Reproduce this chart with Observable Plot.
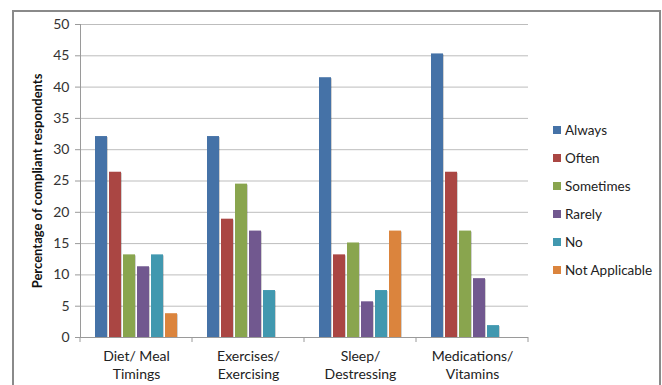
<!DOCTYPE html>
<html>
<head>
<meta charset="utf-8">
<script src="https://cdn.jsdelivr.net/npm/d3@7"></script>
<script src="https://cdn.jsdelivr.net/npm/@observablehq/plot@0.6"></script>
<style>
  body { margin: 0; background: #fff; }
  #wrap { position: relative; width: 662px; height: 385px; overflow: hidden; font-family: Lato, "Open Sans", sans-serif; }
  #chart { position: absolute; left: 0; top: 0; }
  #border { position: absolute; left: 12px; top: 10px; width: 649px; height: 420px; border: 2px solid #8a8a8a; box-sizing: border-box; pointer-events: none; }
  #legend { position: absolute; left: 553px; top: 116px; font-size: 13.5px; color: #222; }
  #legend .item { height: 28px; line-height: 28px; white-space: nowrap; display: flex; align-items: center; }
  #legend .sw { width: 8px; height: 8px; margin-right: 4px; display: inline-block; }
  .bars rect { filter: drop-shadow(1px 1px 0.6px rgba(0,0,0,0.18)); }
</style>
</head>
<body>
<div id="wrap">
  <div id="chart"></div>
  <div id="legend"></div>
  <div id="border"></div>
</div>
<script>
const categories = ["Diet/ Meal Timings", "Exercises/ Exercising", "Sleep/ Destressing", "Medications/ Vitamins"];
const categoryLabels = ["Diet/ Meal\nTimings", "Exercises/\nExercising", "Sleep/\nDestressing", "Medications/\nVitamins"];
const series = ["Always", "Often", "Sometimes", "Rarely", "No", "Not Applicable"];
const seriesColors = ["#4572A7", "#AA4643", "#89A54E", "#71588F", "#4198AF", "#DB843D"];

const always        = [32.1, 32.1, 41.5, 45.3];
const often         = [26.4, 18.9, 13.2, 26.4];
const sometimes     = [13.2, 24.5, 15.1, 17.0];
const rarely        = [11.3, 17.0, 5.7, 9.4];
const no            = [13.2, 7.5, 7.5, 1.9];
const notApplicable = [3.8, 0, 17.0, 0];

const yTicks = [0, 5, 10, 15, 20, 25, 30, 35, 40, 45, 50];
const yLabel = "Percentage of compliant respondents";

const seriesValues = [always, often, sometimes, rarely, no, notApplicable];
const data = [];
categories.forEach((c, ci) => {
  series.forEach((s, si) => {
    data.push({category: c, series: s, value: seriesValues[si][ci]});
  });
});

const chart = Plot.plot({
  width: 662,
  height: 385,
  marginLeft: 80,
  marginRight: 134,
  marginTop: 24,
  marginBottom: 48,
  style: {fontFamily: "Lato, 'Open Sans', sans-serif", fontSize: "14px", color: "#333", background: "transparent"},
  fx: {domain: categories, padding: 0, label: null},
  x: {domain: series, paddingInner: 0.13, paddingOuter: 0.8, axis: null},
  y: {domain: [0, 50]},
  color: {domain: series, range: seriesColors},
  marks: [
    Plot.gridY(yTicks, {stroke: "#bdbdbd", strokeOpacity: 1, strokeWidth: 1}),
    Plot.axisY(yTicks, {tickSize: 5, tickPadding: 6, stroke: "#9a9a9a", fill: "#333", fontSize: 14, label: null}),
    Plot.frame({anchor: "left", stroke: "#9a9a9a", facetAnchor: "left"}),
    Plot.text([yLabel], {frameAnchor: "left", textAnchor: "middle", rotate: -90, dx: -43, fontWeight: "bold", fontSize: 13, fill: "#111", facet: "super"}),
    Plot.axisFx({anchor: "bottom", tickSize: 0, tickPadding: 10, fontSize: 14, lineHeight: 1.32, fill: "#222",
      tickFormat: d => categoryLabels[categories.indexOf(d)], label: null}),
    Plot.barY(data, {fx: "category", x: "series", y: "value", fill: "series", className: "bars"}),
    Plot.ruleY([0], {stroke: "#9a9a9a"})
  ]
});
document.getElementById("chart").appendChild(chart);

// category boundary ticks below the baseline, placed from the plot's own scales
const fx = chart.scale("fx");
const yS = chart.scale("y");
const y0 = yS.apply(0);
const bounds = categories.map(c => fx.apply(c));
bounds.push(fx.apply(categories[categories.length - 1]) + fx.bandwidth);
d3.select(chart).append("g")
  .selectAll("line").data(bounds).join("line")
  .attr("x1", d => d).attr("x2", d => d)
  .attr("y1", y0).attr("y2", y0 + 5)
  .attr("stroke", "#9a9a9a");

// legend
const legend = d3.select("#legend");
series.forEach((s, i) => {
  const item = legend.append("div").attr("class", "item");
  item.append("span").attr("class", "sw").style("background", seriesColors[i]);
  item.append("span").text(s);
});
</script>
</body>
</html>
